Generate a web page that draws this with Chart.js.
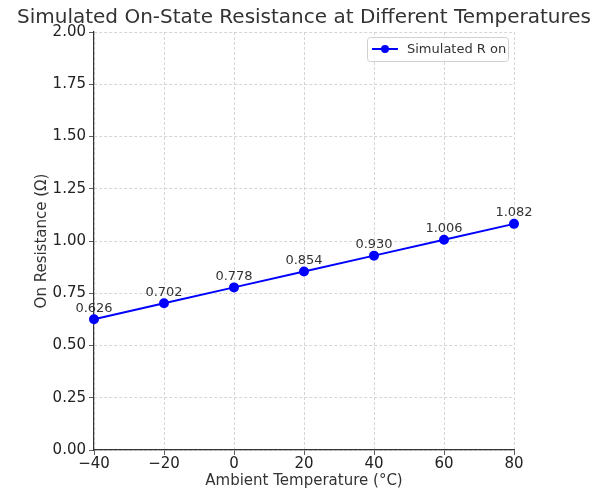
<!DOCTYPE html>
<html>
<head>
<meta charset="utf-8">
<script src="https://cdn.jsdelivr.net/npm/chart.js@4.4.0/dist/chart.umd.min.js"></script>
<style>
  html, body { margin: 0; padding: 0; background: #fff; }
  #wrap { width: 595px; height: 492px; }
</style>
</head>
<body>
<div id="wrap"><canvas id="chart" width="595" height="492"></canvas></div>
<script>
const temps = [-40, -20, 0, 20, 40, 60, 80];
const ron = [0.626, 0.702, 0.778, 0.854, 0.930, 1.006, 1.082];
const seriesLabel = 'Simulated R on';
const chartTitle = 'Simulated On-State Resistance at Different Temperatures';

const FONT = "'DejaVu Sans', sans-serif";
const TEXT = '#333333';

// title centred over the plot area, like matplotlib does
const titlePlugin = {
  id: 'axTitle',
  afterDraw(chart) {
    const { ctx, chartArea } = chart;
    ctx.save();
    ctx.font = '20px ' + FONT;
    ctx.fillStyle = TEXT;
    ctx.textAlign = 'center';
    ctx.textBaseline = 'middle';
    ctx.fillText(chartTitle, (chartArea.left + chartArea.right) / 2, 18);
    ctx.restore();
  }
};

// value labels above each point
const valueLabels = {
  id: 'valueLabels',
  afterDatasetsDraw(chart) {
    const { ctx } = chart;
    const meta = chart.getDatasetMeta(0);
    ctx.save();
    ctx.font = '13px ' + FONT;
    ctx.fillStyle = TEXT;
    ctx.textAlign = 'center';
    ctx.textBaseline = 'middle';
    meta.data.forEach((pt, i) => {
      ctx.fillText(ron[i].toFixed(3), pt.x, pt.y - 11);
    });
    ctx.restore();
  }
};

// legend box inside the upper right corner
const innerLegend = {
  id: 'innerLegend',
  afterDraw(chart) {
    const { ctx, chartArea } = chart;
    const w = 141, h = 24;
    const x = chartArea.right - w - 6, y = chartArea.top + 5;
    ctx.save();
    ctx.fillStyle = 'rgba(255,255,255,0.8)';
    ctx.strokeStyle = '#d0d0d0';
    ctx.lineWidth = 1;
    ctx.beginPath();
    ctx.roundRect(x + 0.5, y + 0.5, w, h, 3);
    ctx.fill();
    ctx.stroke();
    ctx.strokeStyle = '#0000ff';
    ctx.lineWidth = 2;
    ctx.beginPath();
    ctx.moveTo(x + 5, y + h / 2);
    ctx.lineTo(x + 31, y + h / 2);
    ctx.stroke();
    ctx.fillStyle = '#0000ff';
    ctx.beginPath();
    ctx.arc(x + 18, y + h / 2, 4, 0, Math.PI * 2);
    ctx.fill();
    ctx.fillStyle = TEXT;
    ctx.font = '13px ' + FONT;
    ctx.textBaseline = 'middle';
    ctx.fillText(seriesLabel, x + 40, y + h / 2 + 1);
    ctx.restore();
  }
};

new Chart(document.getElementById('chart'), {
  type: 'line',
  data: {
    datasets: [{
      label: seriesLabel,
      data: temps.map((t, i) => ({ x: t, y: ron[i] })),
      borderColor: '#0000ff',
      backgroundColor: '#0000ff',
      borderWidth: 2,
      pointRadius: 4,
      pointHoverRadius: 4,
      tension: 0,
      clip: false
    }]
  },
  options: {
    responsive: false,
    animation: false,
    layout: { padding: { top: 32, right: 81, left: 0, bottom: 0 } },
    plugins: {
      legend: { display: false },
      title: { display: false },
      tooltip: { enabled: false }
    },
    scales: {
      x: {
        type: 'linear',
        min: -40,
        max: 80,
        afterFit(s) { s.height = 42; },
        ticks: {
          stepSize: 20,
          color: '#222',
          font: { family: FONT, size: 15 },
          padding: 0,
          maxRotation: 0,
          callback: v => String(v).replace('-', '\u2212')
        },
        grid: {
          color: '#cccccc',
          lineWidth: 0.8,
          tickColor: '#333',
          tickLength: 5
        },
        border: { display: true, color: '#333', width: 1.2, dash: [3, 2] },
        title: {
          display: true,
          text: 'Ambient Temperature (°C)',
          color: TEXT,
          font: { family: FONT, size: 15 },
          padding: { top: 0, bottom: 2 }
        }
      },
      y: {
        min: 0,
        max: 2,
        afterFit(s) { s.width = 94; },
        ticks: {
          stepSize: 0.25,
          color: '#222',
          font: { family: FONT, size: 15 },
          padding: 3,
          callback: v => v.toFixed(2)
        },
        grid: {
          color: '#cccccc',
          lineWidth: 0.8,
          tickColor: '#333',
          tickLength: 5
        },
        border: { display: true, color: '#333', width: 1.2, dash: [3, 2] },
        title: {
          display: true,
          text: 'On Resistance (Ω)',
          color: TEXT,
          font: { family: FONT, size: 15 },
          padding: { top: 33, bottom: 0 }
        }
      }
    }
  },
  plugins: [titlePlugin, valueLabels, innerLegend]
});
</script>
</body>
</html>
